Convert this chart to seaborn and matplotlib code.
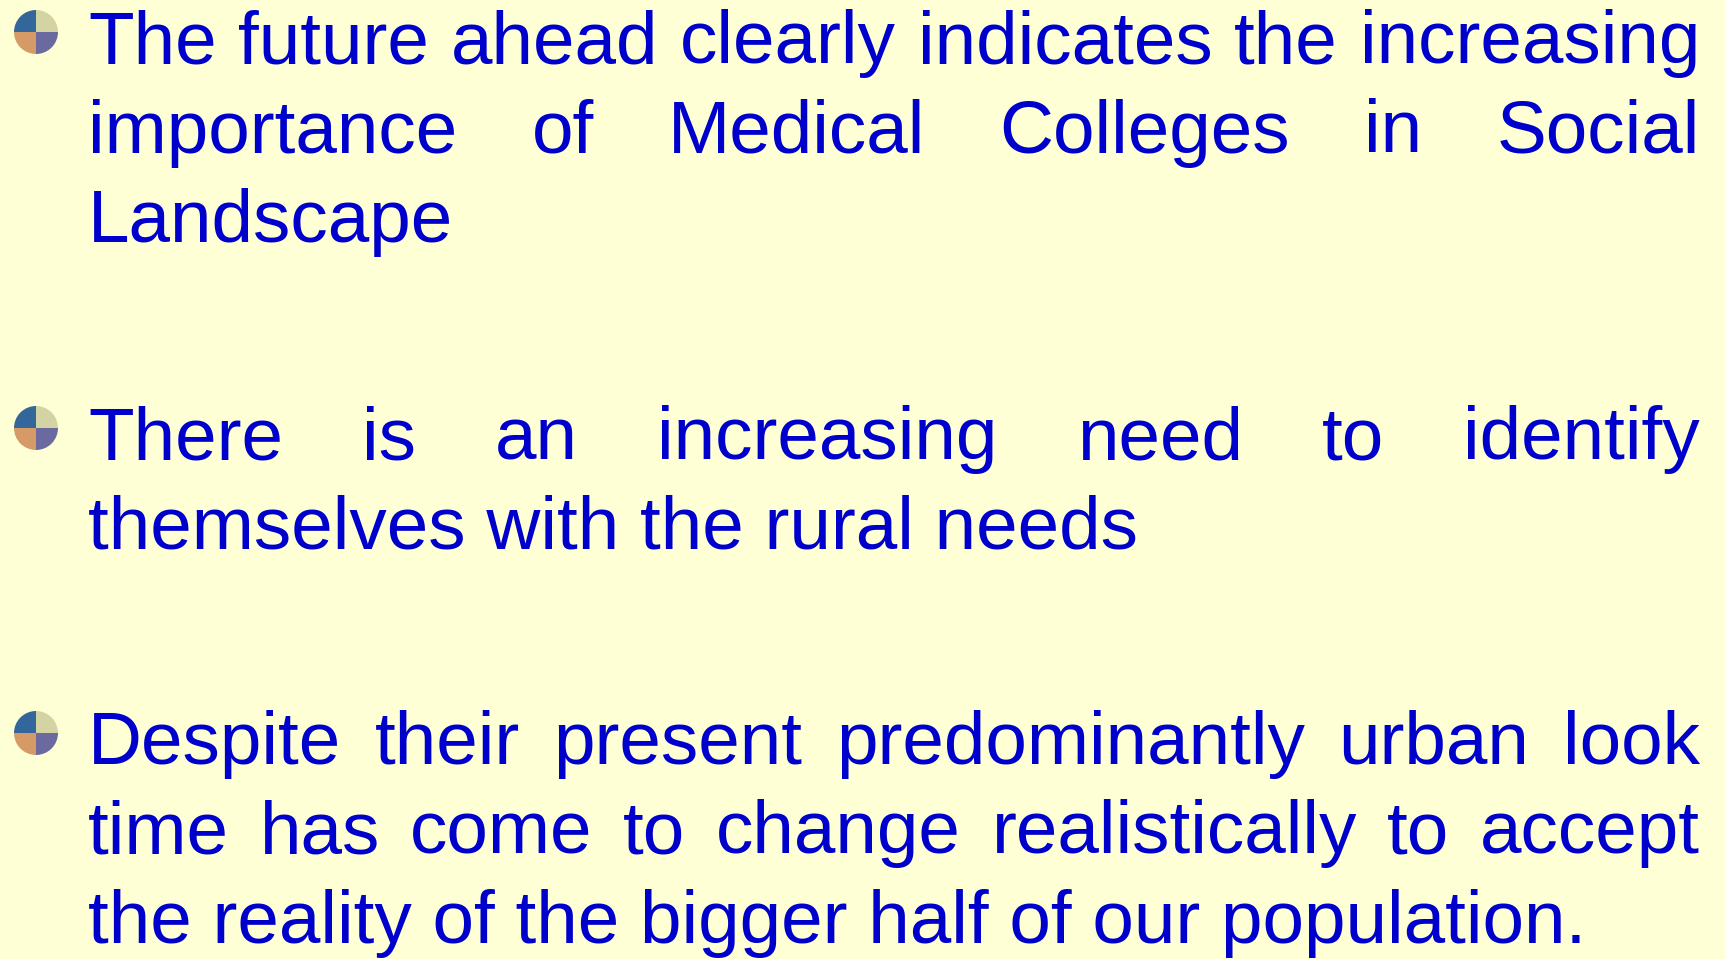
import matplotlib
matplotlib.use("Agg")
import matplotlib.pyplot as plt
from matplotlib.patches import Wedge
import seaborn as sns

# slide content: one list of lines per bullet, last line of each bullet is not justified
bullet_1 = ["The future ahead clearly indicates the increasing",
            "importance of Medical Colleges in Social",
            "Landscape"]
bullet_2 = ["There is an increasing need to identify",
            "themselves with the rural needs"]
bullet_3 = ["Despite their present predominantly urban look",
            "time has come to change realistically to accept",
            "the reality of the bigger half of our population."]
paragraphs = [bullet_1, bullet_2, bullet_3]
first_baselines = [63, 459, 764]

bg_color = "#FFFFD5"
text_color = "#0000CC"
# bullet quarters, clockwise from top-right
bullet_colors = ["#D3D3A3", "#6A6A9F", "#D59A66", "#33669A"]

sns.set_theme(style="white")
plt.rcParams['font.family'] = ['Liberation Sans', 'DejaVu Sans']

W, H = 1725, 959
fig = plt.figure(figsize=(W / 100, H / 100), dpi=100, facecolor=bg_color)
ax = fig.add_axes([0, 0, 1, 1])
ax.set_xlim(0, W)
ax.set_ylim(H, 0)
ax.set_facecolor(bg_color)
ax.axis('off')

left, right = 88, 1700
line_gap = 89.5
font_size = 53.8
renderer = fig.canvas.get_renderer()


def word_width(word):
    t = ax.text(0, 0, word, fontsize=font_size)
    w = t.get_window_extent(renderer).width
    t.remove()
    return w


def draw_bullet(cx, cy, r=22):
    # y axis is inverted, so data angles run clockwise on screen
    for k, col in enumerate(bullet_colors):
        theta1 = 270 + 90 * k
        ax.add_patch(Wedge((cx, cy), r, theta1, theta1 + 90, facecolor=col,
                           edgecolor='none'))


for lines, base in zip(paragraphs, first_baselines):
    draw_bullet(36, base - 31)
    for i, line in enumerate(lines):
        y = base + i * line_gap
        if i == len(lines) - 1:
            ax.text(left, y, line, fontsize=font_size, color=text_color,
                    va='baseline', ha='left')
            continue
        words = line.split()
        widths = [word_width(w) for w in words]
        gap = (right - left - sum(widths)) / (len(words) - 1)
        x = left
        for w, wd in zip(words, widths):
            ax.text(x, y, w, fontsize=font_size, color=text_color,
                    va='baseline', ha='left')
            x += wd + gap

fig.savefig("out.png", dpi=100, facecolor=bg_color)
